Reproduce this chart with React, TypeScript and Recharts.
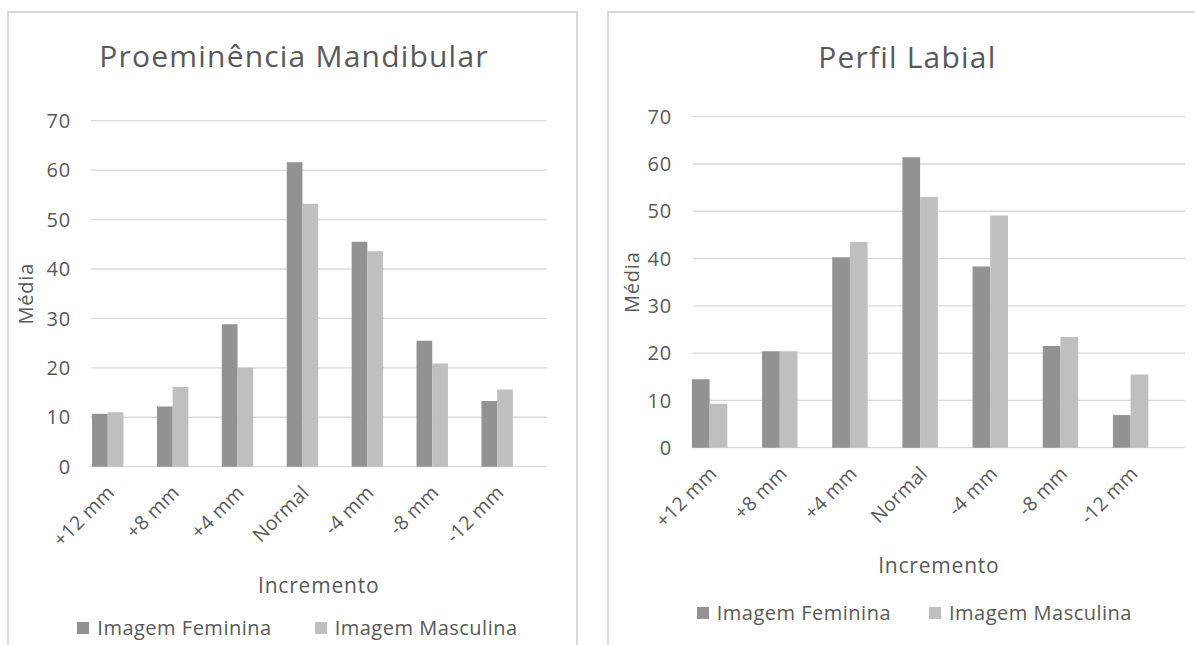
import { BarChart, Bar, XAxis, YAxis, CartesianGrid, Legend } from "recharts";

const categories = ["+12 mm", "+8 mm", "+4 mm", "Normal", "-4 mm", "-8 mm", "-12 mm"];
const seriesNames = ["Imagem Feminina", "Imagem Masculina"];
const yTicks = [0, 10, 20, 30, 40, 50, 60, 70];

// Proeminência Mandibular
const mandibularFeminina = [10.7, 12.2, 28.8, 61.6, 45.5, 25.5, 13.3];
const mandibularMasculina = [11.0, 16.1, 20.0, 53.2, 43.6, 20.9, 15.6];

// Perfil Labial
const labialFeminina = [14.5, 20.4, 40.3, 61.4, 38.3, 21.5, 6.9];
const labialMasculina = [9.3, 20.4, 43.5, 53.0, 49.1, 23.4, 15.5];

const FONT = "'Open Sans', sans-serif";
const TEXT = "#595959";
const DARK = "#929292";
const LIGHT = "#bfbfbf";
const GRID = "#d9d9d9";

const buildRows = (fem: number[], masc: number[]) =>
    categories.map((c, i) => ({ name: c, fem: fem[i], masc: masc[i] }));

function AngledTick(props: any) {
    const { x, y, payload, dx, dy } = props;
    return (
        <g transform={`translate(${x + dx},${y + dy})`}>
            <text textAnchor="end" transform="rotate(-45)" fill={TEXT} fontSize={19.5} fontFamily={FONT} letterSpacing={0.3}>
                {payload.value}
            </text>
        </g>
    );
}

type PanelProps = {
    left: number;
    width: number;
    rows: any[];
    margin: { top: number; left: number; right: number; bottom: number };
    xHeight: number;
    padding: { left: number; right: number };
    barSize: number;
    tickMargin: number;
    mediaX: number;
    incrementoDy: number;
    legendLeft: number;
    itemGap: number;
};

function Panel(p: PanelProps) {
    return (
        <div style={{ position: "absolute", left: p.left, top: 12 }}>
            <BarChart width={p.width} height={633} data={p.rows} margin={p.margin} barGap={0} barSize={p.barSize}>
                <CartesianGrid vertical={false} stroke={GRID} strokeWidth={1.3} />
                <XAxis
                    dataKey="name"
                    height={p.xHeight}
                    padding={p.padding}
                    axisLine={false}
                    tickLine={false}
                    tickSize={0}
                    interval={0}
                    tick={(t: any) => <AngledTick {...t} dx={8} dy={25} />}
                    label={{
                        content: ({ viewBox }: any) => (
                            <text
                                x={viewBox.x + viewBox.width / 2}
                                y={viewBox.y + p.incrementoDy}
                                textAnchor="middle"
                                fill={TEXT}
                                fontSize={21}
                                fontFamily={FONT}
                                letterSpacing={0.8}
                            >
                                Incremento
                            </text>
                        ),
                    }}
                />
                <YAxis
                    width={60}
                    domain={[0, 70]}
                    ticks={yTicks}
                    axisLine={false}
                    tickLine={false}
                    tickSize={0}
                    tickMargin={p.tickMargin}
                    tick={{ fill: TEXT, fontSize: 20, fontFamily: FONT, letterSpacing: 0.6 }}
                    label={{
                        content: ({ viewBox }: any) => {
                            const cy = viewBox.y + viewBox.height / 2;
                            return (
                                <text
                                    x={p.mediaX}
                                    y={cy}
                                    transform={`rotate(-90 ${p.mediaX} ${cy})`}
                                    textAnchor="middle"
                                    fill={TEXT}
                                    fontSize={20}
                                    fontFamily={FONT}
                                    letterSpacing={0.8}
                                >
                                    Média
                                </text>
                            );
                        },
                    }}
                />
                <Legend
                    verticalAlign="bottom"
                    height={30}
                    wrapperStyle={{ left: 0, width: p.width }}
                    content={({ payload }: any) => (
                        <div
                            style={{
                                display: "flex",
                                alignItems: "center",
                                height: 30,
                                paddingLeft: p.legendLeft,
                                fontFamily: FONT,
                                fontSize: 20,
                                letterSpacing: 0.5,
                                lineHeight: "30px",
                                color: TEXT,
                            }}
                        >
                            {(payload || []).map((item: any, i: number) => (
                                <div key={i} style={{ display: "flex", alignItems: "center", marginRight: p.itemGap }}>
                                    <div style={{ width: 12, height: 12, background: item.color, marginRight: 8 }} />
                                    <span>{item.value}</span>
                                </div>
                            ))}
                        </div>
                    )}
                />
                <Bar dataKey="fem" name={seriesNames[0]} fill={DARK} isAnimationActive={false} />
                <Bar dataKey="masc" name={seriesNames[1]} fill={LIGHT} isAnimationActive={false} />
            </BarChart>
        </div>
    );
}

export default function App() {
    return (
        <div style={{ position: "relative", width: 1195, height: 645, overflow: "hidden", background: "#fff" }}>
            <style>{`body{margin:0}`}</style>

            {/* panel frames */}
            <div style={{ position: "absolute", left: 7, top: 11, width: 571, height: 700, border: `2px solid ${GRID}`, boxSizing: "border-box" }} />
            <div style={{ position: "absolute", left: 607, top: 11, width: 700, height: 700, border: `2px solid ${GRID}`, boxSizing: "border-box" }} />

            <Panel
                left={8}
                width={569}
                rows={buildRows(mandibularFeminina, mandibularMasculina)}
                margin={{ top: 108.7, left: 22.7, right: 30.3, bottom: 2.3 }}
                xHeight={146}
                padding={{ left: -15.65, right: 17.35 }}
                barSize={15.7}
                tickMargin={20}
                mediaX={25.3}
                incrementoDy={126.6}
                legendLeft={69.3}
                itemGap={43}
            />
            <Panel
                left={609}
                width={586}
                rows={buildRows(labialFeminina, labialMasculina)}
                margin={{ top: 104.7, left: 23.7, right: 10, bottom: 16.8 }}
                xHeight={150.5}
                padding={{ left: -17.8, right: 18.9 }}
                barSize={17.7}
                tickMargin={21}
                mediaX={30}
                incrementoDy={125.6}
                legendLeft={87.7}
                itemGap={38}
            />

            {/* chart titles */}
            <svg width={1195} height={645} style={{ position: "absolute", left: 0, top: 0, pointerEvents: "none" }}>
                <text x={294} y={66.7} textAnchor="middle" fill={TEXT} fontSize={30} fontFamily={FONT} letterSpacing={1.2}>
                    Proeminência Mandibular
                </text>
                <text x={907.3} y={67.9} textAnchor="middle" fill={TEXT} fontSize={30} fontFamily={FONT} letterSpacing={1.2}>
                    Perfil Labial
                </text>
            </svg>
        </div>
    );
}
